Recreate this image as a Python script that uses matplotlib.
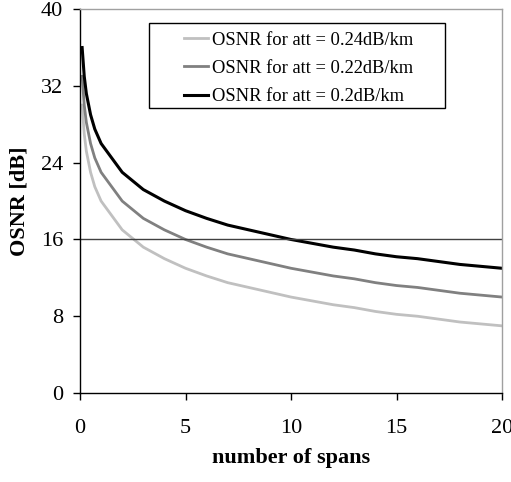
import matplotlib
matplotlib.use('Agg')
import matplotlib.pyplot as plt
from matplotlib.patches import Rectangle

# Datos (numero de vanos vs OSNR)
spans = [0.1, 0.2, 0.3, 0.5, 0.7, 1, 2, 3, 4, 5, 6, 7, 8, 9, 10,
         11, 12, 13, 14, 15, 16, 17, 18, 19, 20]
osnr_024 = [30.0, 27.0, 25.2, 23.0, 21.5, 20.0, 17.0, 15.2, 14.0, 13.0, 12.2, 11.5, 11.0,
            10.5, 10.0, 9.6, 9.2, 8.9, 8.5, 8.2, 8.0, 7.7, 7.4, 7.2, 7.0]
osnr_022 = [33.0, 30.0, 28.2, 26.0, 24.5, 23.0, 20.0, 18.2, 17.0, 16.0, 15.2, 14.5, 14.0,
            13.5, 13.0, 12.6, 12.2, 11.9, 11.5, 11.2, 11.0, 10.7, 10.4, 10.2, 10.0]
osnr_020 = [36.0, 33.0, 31.2, 29.0, 27.5, 26.0, 23.0, 21.2, 20.0, 19.0, 18.2, 17.5, 17.0,
            16.5, 16.0, 15.6, 15.2, 14.9, 14.5, 14.2, 14.0, 13.7, 13.4, 13.2, 13.0]
umbral = 16
labels = ['OSNR for att = 0.24dB/km', 'OSNR for att = 0.22dB/km', 'OSNR for att = 0.2dB/km']

plt.rcParams['font.family'] = ['Liberation Serif', 'DejaVu Serif']

fig = plt.figure(figsize=(5.11, 4.82), dpi=100)
ax = fig.add_axes([0.1566, 0.1846, 0.9824 - 0.1566, 0.981 - 0.1846])

ax.plot(spans, osnr_024, color='#c0c0c0', lw=2.0, label=labels[0])
ax.plot(spans, osnr_022, color='#808080', lw=2.0, label=labels[1])
ax.plot(spans, osnr_020, color='black', lw=2.2, label=labels[2])
ax.axhline(umbral, color='#404040', lw=1.0)

ax.set_xlim(0, 20)
ax.set_ylim(0, 40)
ax.set_xticks([0, 5, 10, 15, 20])
ax.set_yticks([0, 8, 16, 24, 32, 40])
ax.tick_params(direction='out', length=5, width=1, labelsize=16)
ax.tick_params(axis='y', pad=7)
ax.tick_params(axis='x', pad=14)
for s in ['top', 'right']:
    ax.spines[s].set_color('#a0a0a0')
    ax.spines[s].set_linewidth(1)
for s in ['left', 'bottom']:
    ax.spines[s].set_linewidth(1)

ax.set_xlabel('number of spans', fontsize=16, fontweight='bold', labelpad=7)
ax.set_ylabel('OSNR [dB]', fontsize=16, fontweight='bold', labelpad=8)

# marco de la leyenda (mas ancho que el texto, como en el original)
ax.add_patch(Rectangle((0.1635, 0.742), 0.865 - 0.1635, 0.9635 - 0.742,
                       transform=ax.transAxes, fill=True, facecolor='white',
                       edgecolor='black', lw=1, zorder=4))
leg = ax.legend(loc='upper left', bbox_to_anchor=(0.2464, 0.941), fontsize=13.3,
                handlelength=1.3, handletextpad=0.22, frameon=False,
                borderpad=0, labelspacing=0.6, borderaxespad=0)
leg.set_zorder(5)

plt.savefig('out.png', dpi=100)
